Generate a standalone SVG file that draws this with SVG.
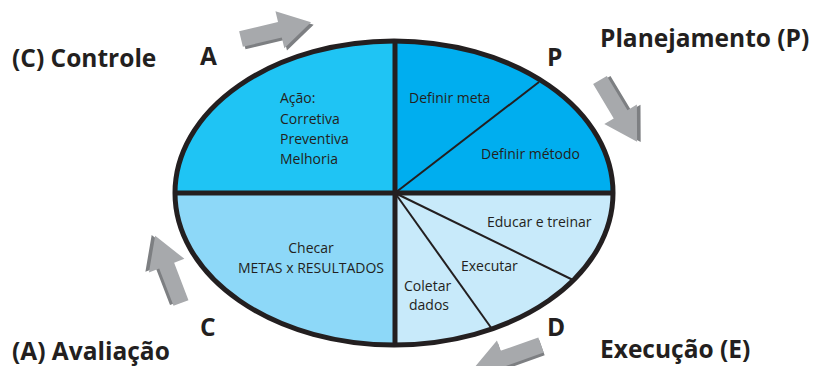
<svg xmlns="http://www.w3.org/2000/svg" width="813" height="366" viewBox="0 0 813 366">
<style>
.big{font-family:"Open Sans","Liberation Sans",sans-serif;font-weight:bold;font-size:24.5px;fill:#231f20}
.t{font-family:"Open Sans","Liberation Sans",sans-serif;font-size:14px;fill:#231f20}
.sh{fill:#7d7f82}
.ar{fill:#a7a9ac}
.thin{stroke:#231f20;stroke-width:2;fill:none}
.thick{stroke:#231f20;stroke-width:5;fill:none}
</style>
<defs>
<polygon id="arrow" points="0,-8 40,-8 40,-19 72,0 40,19 40,8 0,8"/>
<clipPath id="ell"><ellipse cx="394" cy="193" rx="219" ry="152"/></clipPath>
</defs>
<rect width="813" height="366" fill="#ffffff"/>

<g id="arrows">
<g transform="translate(241,39) rotate(-13.5)"><use href="#arrow" class="sh" transform="translate(2,3)"/><use href="#arrow" class="ar"/></g>
<g transform="translate(600,80) rotate(59)"><use href="#arrow" class="sh" transform="translate(2,-3)"/><use href="#arrow" class="ar"/></g>
<g transform="translate(181,303) rotate(-111)"><use href="#arrow" class="sh" transform="translate(2,-3)"/><use href="#arrow" class="ar"/></g>
<g transform="translate(541,345) rotate(160.5)"><use href="#arrow" class="sh" transform="translate(0,-3)"/><use href="#arrow" class="ar"/></g>
</g>

<g id="ellipse">
<g clip-path="url(#ell)">
<rect x="170" y="35" width="225" height="158" fill="#1fc4f4"/>
<rect x="395" y="35" width="225" height="158" fill="#00aeef"/>
<rect x="170" y="193" width="225" height="160" fill="#8dd8f8"/>
<rect x="395" y="193" width="225" height="160" fill="#c8eafa"/>
</g>
</g>

<g id="connectors">
<line class="thin" x1="395" y1="193" x2="539" y2="82"/>
<line class="thin" x1="395" y1="193" x2="573" y2="280"/>
<line class="thin" x1="395" y1="193" x2="492" y2="329"/>
<line class="thick" x1="174" y1="193" x2="614" y2="193"/>
<line class="thick" x1="395" y1="40" x2="395" y2="346"/>
<ellipse cx="394" cy="193" rx="219" ry="152" class="thick"/>
</g>

<g id="node-acao">
<text class="t" x="280" y="103">Ação:</text>
<text class="t" x="280" y="124">Corretiva</text>
<text class="t" x="280" y="144">Preventiva</text>
<text class="t" x="280" y="164">Melhoria</text>
</g>
<g id="node-definir-meta"><text class="t" x="409" y="103">Definir meta</text></g>
<g id="node-definir-metodo"><text class="t" x="481" y="159">Definir método</text></g>
<g id="node-educar"><text class="t" x="487" y="227">Educar e treinar</text></g>
<g id="node-executar"><text class="t" x="461" y="271">Executar</text></g>
<g id="node-coletar">
<text class="t" x="404" y="291">Coletar</text>
<text class="t" x="409" y="310">dados</text>
</g>
<g id="node-checar">
<text class="t" x="311" y="253" text-anchor="middle">Checar</text>
<text class="t" x="311" y="273" text-anchor="middle">METAS x RESULTADOS</text>
</g>

<g id="labels">
<text class="big" x="12" y="67">(C) Controle</text>
<text class="big" x="200" y="65">A</text>
<text class="big" x="547" y="66">P</text>
<text class="big" x="600" y="47">Planejamento (P)</text>
<text class="big" x="12" y="360">(A) Avaliação</text>
<text class="big" x="200" y="336">C</text>
<text class="big" x="547" y="336">D</text>
<text class="big" x="600" y="358">Execução (E)</text>
</g>
</svg>
